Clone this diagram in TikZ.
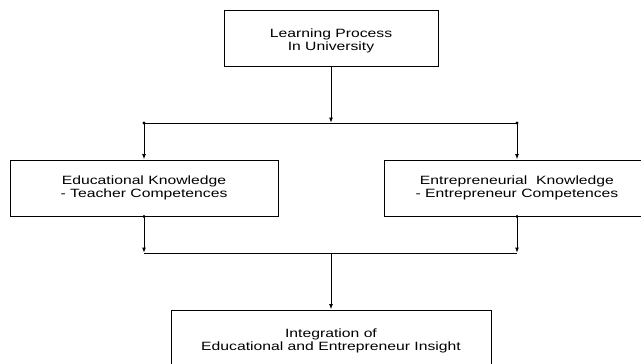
\documentclass[tikz,border=0pt]{standalone}
\usepackage{fontspec}
\setmainfont[FakeStretch=1.31]{Liberation Sans}
\usetikzlibrary{arrows.meta}
\begin{document}
\begin{tikzpicture}[x=1pt,y=-1pt,
  box/.style={draw, line width=1pt, align=center, inner sep=0pt,
    font=\fontsize{12}{13}\selectfont},
  link/.style={line width=1pt, -{Latex[length=5.5pt,width=4pt]}},
  joint/.style={line width=1pt},
  dotmark/.style={circle, fill, inner sep=0pt, minimum size=3.2pt}]
\useasboundingbox (0,0) rectangle (641,364);
\clip (0,0) rectangle (641,364);

% boxes
\node[box, minimum width=214pt, minimum height=56pt] (top) at (331,38)
  {\rule{0pt}{14pt}Learning Process\\In University};
\node[box, minimum width=268pt, minimum height=56pt] (left) at (144,188)
  {Educational Knowledge\\- Teacher Competences};
\node[box, minimum width=266pt, minimum height=56pt] (right) at (517,188)
  {Entrepreneurial\ \ Knowledge\\- Entrepreneur Competences};
\node[box, minimum width=320pt, minimum height=62pt] (bottom) at (331,341)
  {Integration of\\Educational and Entrepreneur Insight};

% junction points
\coordinate (split)  at (331,123);
\coordinate (splitL) at (144,123);
\coordinate (splitR) at (517,123);
\coordinate (merge)  at (331,253);
\coordinate (mergeL) at (144,253);
\coordinate (mergeR) at (517,253);

% upper branching
\draw[link] (top) -- (split);
\draw[joint] (splitL) -- (splitR);
\draw[link] (splitL) -- (left.north);
\draw[link] (splitR) -- (right.north);

% lower merging
\draw[link] (left.south) -- (mergeL);
\draw[link] (right.south) -- (mergeR);
\draw[joint] (mergeL) -- (mergeR);
\draw[link] (merge) -- (bottom);

% small dots where lines leave
\node[dotmark] at (splitL) {};
\node[dotmark] at (splitR) {};
\node[dotmark] at (left.south) {};
\node[dotmark] at (right.south) {};
\end{tikzpicture}
\end{document}
